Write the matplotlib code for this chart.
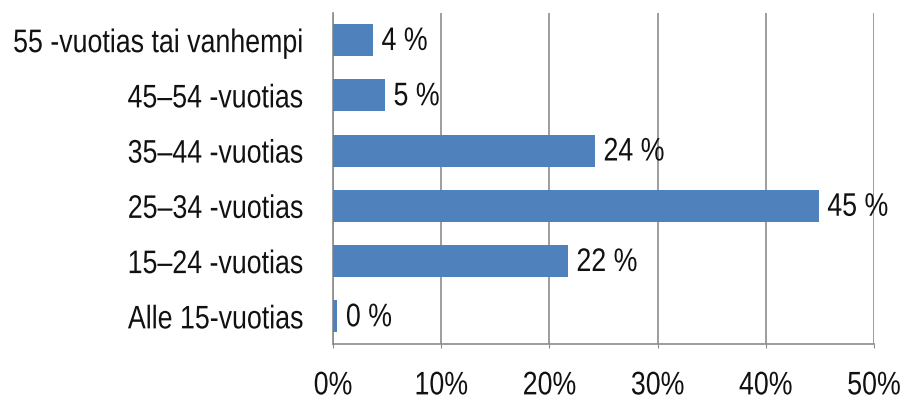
import matplotlib
matplotlib.use("Agg")
import matplotlib.pyplot as plt
from matplotlib import font_manager
from matplotlib.patheffects import AbstractPathEffect
from matplotlib.transforms import Affine2D

# ---------- data ----------
categories = ["55 -vuotias tai vanhempi", "45–54 -vuotias", "35–44 -vuotias",
              "25–34 -vuotias", "15–24 -vuotias", "Alle 15-vuotias"]
values = [3.7, 4.8, 24.2, 44.9, 21.7, 0.4]
value_labels = ["4 %", "5 %", "24 %", "45 %", "22 %", "0 %"]
xticks = [0, 10, 20, 30, 40, 50]
xtick_labels = ["0%", "10%", "20%", "30%", "40%", "50%"]


class Squeeze(AbstractPathEffect):
    """Draw text narrower (the reference uses a narrow Arial)."""

    def __init__(self, sx=0.82, anchor="left"):
        super().__init__()
        self.sx = sx
        self.anchor = anchor

    def draw_path(self, renderer, gc, tpath, affine, rgbFace=None):
        ext = tpath.get_extents(affine)
        x0 = {"left": ext.x0, "right": ext.x1, "center": (ext.x0 + ext.x1) / 2}[self.anchor]
        t = affine + Affine2D().translate(-x0, 0).scale(self.sx, 1).translate(x0, 0)
        renderer.draw_path(gc, tpath, t, rgbFace)


names = {f.name for f in font_manager.fontManager.ttflist}
family = "Liberation Sans Narrow" if "Liberation Sans Narrow" in names else "Liberation Sans"
sx = 1.0 if family == "Liberation Sans Narrow" else 0.82
plt.rcParams["font.family"] = [family, "DejaVu Sans"]

bar_color = "#4F81BD"
grid_color = "#8c8c8c"
text_color = "#111111"
fs = 23.5

fig = plt.figure(figsize=(9.03, 3.98), dpi=100)
ax = fig.add_axes([333 / 903, 1 - 344 / 398, (874 - 333) / 903, (344 - 12.5) / 398])

ypos = list(range(len(categories)))[::-1]
ax.barh(ypos, values, height=0.58, color=bar_color, zorder=3)
for y, v, lab in zip(ypos, values, value_labels):
    ax.annotate(lab, (v, y), xytext=(6, -1), textcoords="offset points",
                ha="left", va="center", fontsize=fs, color=text_color, zorder=4,
                path_effects=[Squeeze(sx, "left")])

ax.set_xlim(0, 50)
ax.set_ylim(-0.5, len(categories) - 0.5)
ax.set_xticks(xticks)
ax.set_xticklabels(xtick_labels)
ax.set_yticks(ypos)
ax.set_yticklabels(categories)

ax.xaxis.grid(True, color=grid_color, linewidth=1.2, zorder=0)
for s in ["top", "right"]:
    ax.spines[s].set_visible(False)
for s in ["left", "bottom"]:
    ax.spines[s].set_color(grid_color)
    ax.spines[s].set_linewidth(1.2)

ax.tick_params(axis="x", length=3, color=grid_color, pad=16, labelsize=fs, labelcolor=text_color)
ax.tick_params(axis="y", length=0, pad=21, labelsize=fs, labelcolor=text_color)
for t in ax.get_xticklabels():
    t.set_path_effects([Squeeze(sx, "center")])
for t in ax.get_yticklabels():
    t.set_path_effects([Squeeze(sx, "right")])

fig.savefig("out.png", dpi=100)
